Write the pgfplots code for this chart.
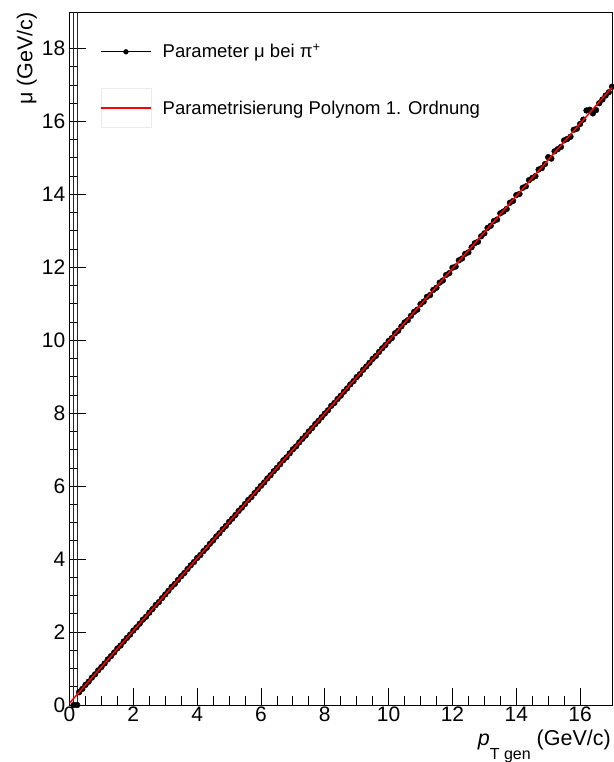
\documentclass[border=0pt]{standalone}
\usepackage{fontspec}
\setmainfont{Liberation Sans}
\usepackage{pgfplots}
\pgfplotsset{compat=1.18}

% Fitted mean mu versus generated transverse momentum (pi+)
\pgfplotstableread{
x y
0.3 0.35
0.4 0.44
0.5 0.55
0.6 0.64
0.7 0.75
0.8 0.84
0.9 0.95
1.0 1.04
1.1 1.14
1.2 1.25
1.3 1.34
1.4 1.44
1.5 1.55
1.6 1.63
1.7 1.74
1.8 1.84
1.9 1.93
2.0 2.04
2.1 2.13
2.2 2.23
2.3 2.34
2.4 2.42
2.5 2.53
2.6 2.63
2.7 2.74
2.8 2.82
2.9 2.93
3.0 3.03
3.1 3.13
3.2 3.24
3.3 3.32
3.4 3.43
3.5 3.53
3.6 3.62
3.7 3.73
3.8 3.83
3.9 3.92
4.0 4.03
4.1 4.11
4.2 4.22
4.3 4.31
4.4 4.42
4.5 4.51
4.6 4.62
4.7 4.71
4.8 4.82
4.9 4.91
5.0 5.02
5.1 5.11
5.2 5.21
5.3 5.32
5.4 5.41
5.5 5.51
5.6 5.62
5.7 5.70
5.8 5.81
5.9 5.91
6.0 6.01
6.1 6.10
6.2 6.21
6.3 6.30
6.4 6.41
6.5 6.50
6.6 6.60
6.7 6.71
6.8 6.79
6.9 6.90
7.0 7.01
7.1 7.09
7.2 7.20
7.3 7.30
7.4 7.39
7.5 7.50
7.6 7.59
7.7 7.70
7.8 7.79
7.9 7.89
8.0 7.99
8.1 8.08
8.2 8.20
8.3 8.28
8.4 8.39
8.5 8.48
8.6 8.59
8.7 8.68
8.8 8.79
8.9 8.88
9.0 8.99
9.1 9.07
9.2 9.19
9.3 9.28
9.4 9.38
9.5 9.49
9.6 9.57
9.7 9.68
9.8 9.78
9.9 9.87
10.0 9.98
10.1 10.06
10.2 10.19
10.3 10.26
10.4 10.38
10.5 10.49
10.6 10.55
10.7 10.67
10.8 10.78
10.9 10.84
11.0 10.99
11.1 11.06
11.2 11.19
11.3 11.24
11.4 11.38
11.5 11.44
11.6 11.58
11.7 11.64
11.8 11.79
11.9 11.84
12.0 11.99
12.1 12.02
12.2 12.19
12.3 12.24
12.4 12.37
12.5 12.41
12.6 12.55
12.7 12.66
12.8 12.70
12.9 12.85
13.0 12.93
13.1 13.08
13.2 13.14
13.3 13.27
13.4 13.31
13.5 13.48
13.6 13.53
13.7 13.60
13.8 13.77
13.9 13.82
14.0 13.98
14.1 14.01
14.2 14.18
14.3 14.22
14.4 14.39
14.5 14.45
14.6 14.50
14.7 14.68
14.8 14.72
14.9 14.83
15.0 15.02
15.1 14.98
15.2 15.18
15.3 15.24
15.4 15.30
15.5 15.48
15.6 15.52
15.7 15.58
15.8 15.77
15.9 15.80
16.0 15.93
16.1 16.05
16.2 16.30
16.3 16.32
16.4 16.22
16.5 16.31
16.6 16.50
16.7 16.60
16.8 16.71
16.9 16.80
17.0 16.95
}\mudata

\begin{document}
\begin{tikzpicture}
\begin{axis}[
  scale only axis,
  width=542.5bp, height=693bp,
  xmin=0, xmax=17, ymin=0, ymax=19,
  xtick={0,2,...,16}, ytick={0,2,...,18},
  minor tick num=3,
  tick align=inside, tickpos=left,
  major tick length=17bp, minor tick length=9bp,
  tick style={black, line width=0.8bp},
  axis line style={black, line width=0.8bp},
  /pgf/number format/assume math mode=true,
  tick label style={font=\fontsize{21bp}{25bp}\selectfont},
  xticklabel style={inner sep=0pt, yshift=-2bp},
  yticklabel style={inner sep=0pt, xshift=-4bp},
  every axis x label/.style={at={(rel axis cs:1,0)}, anchor=base east,
    inner sep=0pt, yshift=-40bp, xshift=-1bp, font=\fontsize{21.5bp}{25bp}\selectfont},
  every axis y label/.style={at={([xshift=-37bp]rel axis cs:0,1)}, anchor=base east,
    rotate=90, inner sep=0pt, font=\fontsize{21.5bp}{25bp}\selectfont},
  xlabel={\textit{p}\raisebox{-14bp}{\fontsize{16bp}{16bp}\selectfont T gen} (GeV/c)},
  ylabel={μ (GeV/c)},
  legend style={at={(0.0562,0.9538)}, anchor=north west, draw=none, fill=none,
    inner sep=0pt, row sep=29bp, column sep=11bp,
    font=\fontsize{18.5bp}{22bp}\selectfont, nodes={inner sep=0pt}},
  legend cell align=left,
  clip mode=individual,
]
% bins at the very start: zero mean with errors running off the frame
\addplot[forget plot, only marks, mark=*, mark size=2.9bp, black,
  error bars/.cd, y dir=plus, y explicit, error mark=none,
  error bar style={black!85, line width=0.8bp}]
  coordinates {(0.13,0) +- (0,19) (0.24,0) +- (0,19)};

\addplot[only marks, mark=*, mark size=2.9bp, black,
  legend image code/.code={
    \draw[black, line width=0.8bp] (0bp,0bp) -- (50bp,0bp);
    \fill[black] (25bp,0bp) circle (2.4bp);}]
  table[x=x, y=y] {\mudata};
\addlegendentry{Parameter μ bei π\textsuperscript{+}}

% first-order polynomial fit
\addplot[red, line width=1.5bp,
  legend image code/.code={
    \draw[black!8, line width=0.6bp] (0bp,-19.5bp) rectangle (50bp,19.5bp);
    \draw[red, line width=1.5bp] (0bp,0bp) -- (50bp,0bp);}]
  coordinates {(0,0.05) (17,16.93)};
\addlegendentry{Parametrisierung Polynom 1. Ordnung}
\end{axis}
\pgfresetboundingbox
\path (current axis.south west) ++(-69.5bp,-57bp) rectangle ++(614bp,762bp);
\end{tikzpicture}
\end{document}
